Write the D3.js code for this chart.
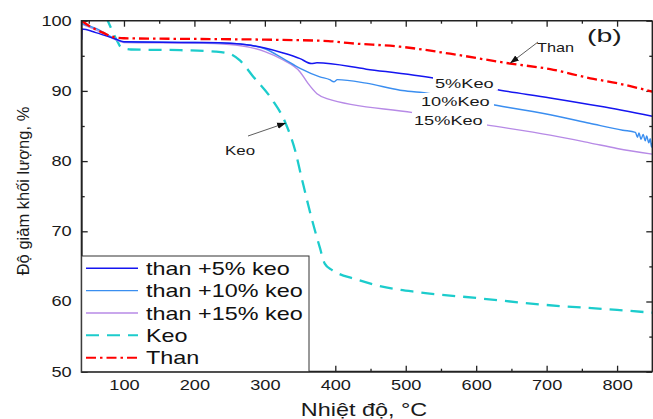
<!DOCTYPE html>
<html>
<head>
<meta charset="utf-8">
<script src="https://cdn.jsdelivr.net/npm/d3@7"></script>
<style>
  body { margin: 0; background: #fff; }
  svg { display: block; font-family: "Liberation Sans", Arial, sans-serif; }
</style>
</head>
<body>
<svg id="chart" width="653" height="419"></svg>
<script>
// TGA curves, [temperature °C, mass %]
var than5 = [[40,97.3],[40.5,98.8],[60,98.3],[88,97.4],[100,97.0],[200,96.9],[250,96.8],[280,96.5],[300,96.1],
  [326,95.4],[350,94.6],[366,93.9],[374,94.0],[444,93.1],[541,91.8],[634,90.1],[705,89.0],[776,87.8],[850,86.4]];
var than10 = [[40,99.6],[60,98.9],[90,97.3],[100,97.0],[200,96.9],[250,96.8],[279,96.5],[300,96.0],[326,94.6],
  [350,93.2],[378,92.0],[392,91.6],[398,91.3],[403,91.6],[444,91.1],[492,90.1],[520,89.8],[619,88.1],[705,86.6],
  [761,85.4],[808,84.4],[826,84.1],[829,83.4],[831,84.0],[834,83.1],[837,83.8],[840,82.9],[842,83.6],[845,82.6],
  [847,83.2],[849,82.0],[850,82.6]];
var than15 = [[40,99.5],[60,98.7],[90,97.2],[100,96.9],[200,96.8],[250,96.6],[279,96.2],[300,95.6],[326,94.4],
  [350,92.7],[361,91.1],[374,89.6],[388,88.9],[510,86.9],[612,85.2],[705,83.7],[761,82.6],[800,81.8],[850,81.0]];
var keo = [[40,109],[77,100],[90,97.2],[96,96.2],[110,95.9],[180,95.8],[230,95.6],[250,95.3],[265,94.3],
  [283,92.1],[310,88.8],[329,85.5],[343,81.5],[352,77.7],[366,72.0],[378,67.7],[385,65.4],[395,64.5],[406,63.9],
  [425,63.3],[463,62.2],[520,61.3],[600,60.5],[700,59.5],[800,58.8],[850,58.4]];
var than = [[40,100.0],[50,99.3],[70,98.3],[88,97.6],[100,97.5],[200,97.4],[300,97.3],[390,97.1],[421,96.8],
  [492,96.3],[563,95.3],[648,93.9],[705,93.1],[762,91.8],[800,91.1],[850,89.9]];

var legendNames = ["than +5% keo", "than +10% keo", "than +15% keo", "Keo", "Than"];
var xMajor = [100, 200, 300, 400, 500, 600, 700, 800];
var xMinor = [50, 150, 250, 350, 450, 550, 650, 750, 850];
var yMajor = [50, 60, 70, 80, 90, 100];
var yMinor = [55, 65, 75, 85, 95];

var L = 81.7, R = 652.3, T = 20.7, B = 371.7;
var sx = 1.3; // the source picture is stretched sideways, so text is too

var svg = d3.select("#chart");
var x = d3.scaleLinear().domain([40, 850]).range([L, R]);
var y = d3.scaleLinear().domain([50, 100]).range([B, T]);

var series = [
  { data: than5,  color: "#1515f0", dash: null,         width: 1.5 },
  { data: than10, color: "#3a8ef0", dash: null,         width: 1.4 },
  { data: than15, color: "#b78ae6", dash: null,         width: 1.4 },
  { data: keo,    color: "#1ccccc", dash: "13,8",       width: 2.3 },
  { data: than,   color: "#ff0000", dash: "10,4,2.5,4", width: 2.3 }
];

svg.append("defs").append("clipPath").attr("id", "plotclip")
  .append("rect").attr("x", L).attr("y", T).attr("width", R - L).attr("height", B - T);

var marker = svg.select("defs").append("marker").attr("id", "arrow")
  .attr("viewBox", "0 0 10 10").attr("refX", 9).attr("refY", 5)
  .attr("markerWidth", 9).attr("markerHeight", 9).attr("orient", "auto")
  .attr("markerUnits", "userSpaceOnUse");
marker.append("path").attr("d", "M0,1.5L10,5L0,8.5z").attr("fill", "#111");

// ticks (all pointing inward)
function ticks(gen, tr, vals, size) {
  var g = svg.append("g").attr("transform", tr)
    .call(gen.tickValues(vals).tickSize(size).tickFormat(""));
  g.select(".domain").remove();
  g.selectAll("line").attr("stroke", "#222").attr("stroke-width", 1.3);
  return g;
}
ticks(d3.axisBottom(x), "translate(0," + B + ")", xMajor, -6);
ticks(d3.axisBottom(x), "translate(0," + B + ")", xMinor, -3);
ticks(d3.axisTop(x), "translate(0," + T + ")", xMajor, -6);
ticks(d3.axisTop(x), "translate(0," + T + ")", xMinor, -3);
ticks(d3.axisLeft(y), "translate(" + L + ",0)", yMajor, -6);
ticks(d3.axisLeft(y), "translate(" + L + ",0)", yMinor, -3);
ticks(d3.axisRight(y), "translate(" + R + ",0)", yMajor, -6);
ticks(d3.axisRight(y), "translate(" + R + ",0)", yMinor, -3);

// tick labels
var xl = svg.append("g").attr("transform", "translate(0," + B + ")")
  .call(d3.axisBottom(x).tickValues(xMajor).tickSize(0).tickPadding(8).tickFormat(d3.format("d")));
xl.select(".domain").remove();
xl.selectAll("text").attr("font-size", 14).attr("fill", "#1a1a1a")
  .attr("font-family", null).attr("transform", "scale(" + sx + ",1)");

var yl = svg.append("g").attr("transform", "translate(" + L + ",0)")
  .call(d3.axisLeft(y).tickValues(yMajor).tickSize(0).tickFormat(d3.format("d")));
yl.select(".domain").remove();
yl.selectAll("text").attr("font-size", 14).attr("fill", "#1a1a1a")
  .attr("font-family", null).attr("x", -10 / sx).attr("transform", "scale(" + sx + ",1)");

// curves
var line = d3.line().curve(d3.curveMonotoneX)
  .x(function(d) { return x(d[0]); }).y(function(d) { return y(d[1]); });
var plot = svg.append("g").attr("clip-path", "url(#plotclip)");
[3, 2, 1, 0, 4].forEach(function(i) {
  var s = series[i];
  plot.append("path").datum(s.data)
    .attr("d", line)
    .attr("fill", "none")
    .attr("stroke", s.color)
    .attr("stroke-width", s.width)
    .attr("stroke-dasharray", s.dash)
    .attr("stroke-linejoin", "round");
});

// frame
svg.append("line").attr("x1", L).attr("x2", R).attr("y1", T).attr("y2", T).attr("stroke", "#222").attr("stroke-width", 1.4);
svg.append("line").attr("x1", R).attr("x2", R).attr("y1", T).attr("y2", B).attr("stroke", "#222").attr("stroke-width", 1.4);
svg.append("line").attr("x1", L).attr("x2", R).attr("y1", B).attr("y2", B).attr("stroke", "#222").attr("stroke-width", 2);
svg.append("line").attr("x1", L).attr("x2", L).attr("y1", T - 0.7).attr("y2", B + 1).attr("stroke", "#222").attr("stroke-width", 2);

// in-plot labels, with a white patch that cuts the curve under them
function label(txt, px, py, size, k, patch) {
  var g = svg.append("g");
  var t = g.append("text").attr("transform", "translate(" + px + "," + py + ") scale(" + k + ",1)")
    .attr("font-size", size).attr("fill", "#1a1a1a").text(txt);
  if (patch) {
    var bb = t.node().getBBox();
    g.insert("rect", "text").attr("x", px - 2).attr("y", py + bb.y - 1.5)
      .attr("width", bb.width * k + 6).attr("height", bb.height + 2).attr("fill", "#fff");
  }
}
label("5%Keo", 435, 87.7, 13, 1.4, true);
label("10%Keo", 421, 106, 13, 1.4, true);
label("15%Keo", 414, 125, 13, 1.4, true);
label("Than", 537, 51.5, 13, 1.25, false);
label("Keo", 225, 155, 13, 1.3, false);
label("(b)", 587, 42, 19, 1.5, false);

// arrows pointing at the curves
svg.append("line").attr("x1", 538).attr("y1", 42).attr("x2", x(649)).attr("y2", y(94.0))
  .attr("stroke", "#333").attr("stroke-width", 0.8).attr("marker-end", "url(#arrow)");
svg.append("line").attr("x1", 248).attr("y1", 136).attr("x2", x(329)).attr("y2", y(85.4))
  .attr("stroke", "#333").attr("stroke-width", 0.8).attr("marker-end", "url(#arrow)");

// legend
var lg = svg.append("g");
lg.append("rect").attr("x", L).attr("y", 256).attr("width", 309 - L).attr("height", B - 256)
  .attr("fill", "#fff").attr("stroke", "#333").attr("stroke-width", 1);
legendNames.forEach(function(name, i) {
  var s = series[i];
  var cy = 268.3 + i * 22.35;
  lg.append("line").attr("x1", 86).attr("x2", 138).attr("y1", cy).attr("y2", cy)
    .attr("stroke", s.color).attr("stroke-width", Math.min(s.width, 2))
    .attr("stroke-dasharray", s.dash);
  lg.append("text").attr("transform", "translate(146," + (cy + 6.5) + ") scale(" + sx + ",1)")
    .attr("font-size", 18).attr("fill", "#111").text(name);
});

// axis titles
svg.append("text").attr("transform", "translate(29,191) rotate(-90)")
  .attr("text-anchor", "middle").attr("font-size", 16.5).attr("fill", "#1a1a1a")
  .text("Độ giảm khối lượng, %");
svg.append("text").attr("transform", "translate(364,416) scale(" + sx + ",1)")
  .attr("text-anchor", "middle").attr("font-size", 18).attr("fill", "#1a1a1a")
  .text("Nhiệt độ, °C");
</script>
</body>
</html>
